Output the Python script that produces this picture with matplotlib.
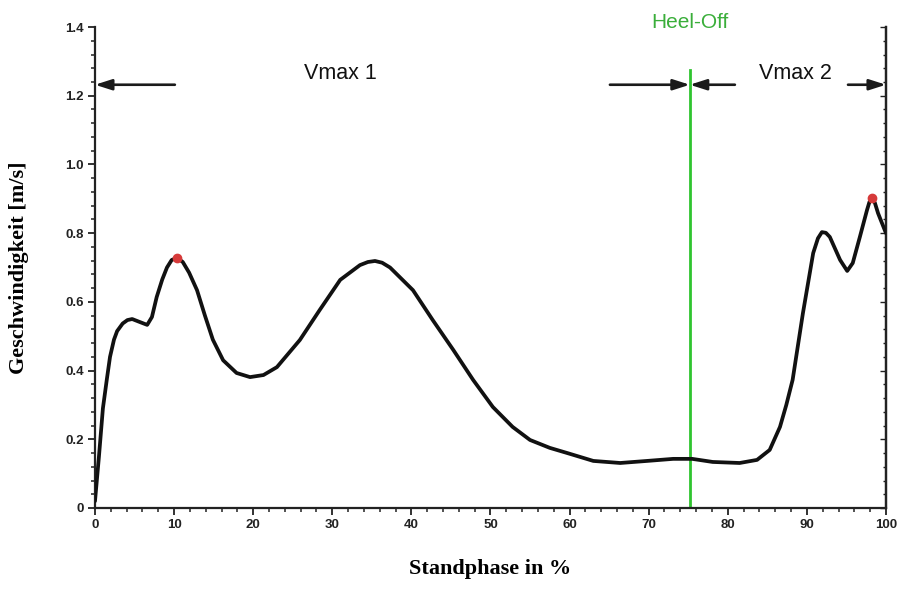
import matplotlib
matplotlib.use("Agg")
import matplotlib.pyplot as plt
from matplotlib.ticker import MultipleLocator

# Stance phase (%) and velocity (m/s)
phase = [0.0, 0.5, 1.0, 1.5, 1.9, 2.4, 2.8, 3.5, 4.1, 4.7, 5.7, 6.6, 7.2, 7.8,
         8.5, 9.1, 9.7, 10.4, 11.1, 11.9, 12.9, 13.9, 14.9, 16.2, 17.9, 19.6,
         21.3, 23.0, 25.9, 28.4, 31.0, 33.5, 34.5, 35.4, 36.3, 37.3, 40.2, 42.7,
         45.3, 47.8, 50.3, 52.8, 55.0, 57.5, 59.7, 63.0, 66.4, 69.8, 73.1, 75.5,
         78.1, 81.5, 83.7, 85.3, 86.6, 87.4, 88.2, 89.5, 90.8, 91.4, 91.9, 92.4,
         92.9, 94.2, 95.1, 95.8, 96.7, 97.6, 97.9, 98.2, 98.6, 99.0, 100.0]
velocity = [0.02, 0.15, 0.29, 0.375, 0.44, 0.49, 0.515, 0.537, 0.547, 0.55,
            0.541, 0.533, 0.556, 0.614, 0.665, 0.70, 0.722, 0.728, 0.716,
            0.685, 0.634, 0.56, 0.49, 0.43, 0.393, 0.381, 0.387, 0.41, 0.489,
            0.576, 0.664, 0.707, 0.716, 0.719, 0.714, 0.70, 0.634, 0.547, 0.46,
            0.373, 0.294, 0.236, 0.198, 0.175, 0.16, 0.137, 0.131, 0.137, 0.143,
            0.143, 0.134, 0.131, 0.14, 0.169, 0.236, 0.30, 0.373, 0.567, 0.742,
            0.785, 0.803, 0.801, 0.789, 0.722, 0.69, 0.713, 0.789, 0.867, 0.89,
            0.902, 0.888, 0.858, 0.80]

# Velocity maxima
peak_phase = [10.4, 98.2]
peak_velocity = [0.728, 0.902]

heel_off = 75.2
arrow_y = 1.232
# (tail, head) of the bracket arrows
arrows = [(10.1, 0.0), (65.1, heel_off), (80.9, heel_off), (95.2, 100.0)]
labels = [("Vmax 1", 31.0), ("Vmax 2", 88.5)]

fig = plt.figure(figsize=(8.97, 5.90), dpi=100)
ax = fig.add_axes([0.1059, 0.1390, 0.8818, 0.8152])

ax.plot(phase, velocity, color="#111111", lw=2.7, solid_capstyle="round",
        solid_joinstyle="round", zorder=3)
ax.plot(peak_phase, peak_velocity, "o", color="#d63a3a", ms=6, zorder=4)

ax.plot([heel_off, heel_off], [0, 1.275], color="#2fc42f", lw=2.0, zorder=2)
ax.text(heel_off, 1.414, "Heel-Off", color="#3aae3a", fontsize=15,
        family="Liberation Sans", ha="center", va="center", clip_on=False)

for tail, head in arrows:
    ax.annotate("", xy=(head, arrow_y), xytext=(tail, arrow_y),
                arrowprops=dict(arrowstyle="-|>,head_length=1.0,head_width=0.32",
                                color="#1a1a1a", lw=1.9, shrinkA=0, shrinkB=0))
for txt, xpos in labels:
    ax.text(xpos, 1.266, txt, fontsize=15.5, family="Liberation Sans",
            ha="center", va="center", color="#111111")

ax.set_xlim(0, 100)
ax.set_ylim(0, 1.4)
ax.xaxis.set_major_locator(MultipleLocator(10))
ax.xaxis.set_minor_locator(MultipleLocator(2))
ax.yaxis.set_major_locator(MultipleLocator(0.2))
ax.yaxis.set_minor_locator(MultipleLocator(0.04))
ax.yaxis.set_major_formatter(plt.FuncFormatter(
    lambda v, _: "0" if abs(v) < 1e-9 else f"{v:.1f}"))

ax.spines["top"].set_visible(False)
for s in ("left", "bottom", "right"):
    ax.spines[s].set_linewidth(1.6)
    ax.spines[s].set_color("#222222")

ax.tick_params(which="major", direction="out", length=5, width=1.3,
               colors="#222222", labelsize=9.5, pad=3)
ax.tick_params(which="minor", direction="out", length=3, width=1.1,
               colors="#222222")
for lab in ax.get_xticklabels() + ax.get_yticklabels():
    lab.set_fontweight("bold")
    lab.set_family("Liberation Sans")

sec = ax.secondary_yaxis("right")
sec.yaxis.set_major_locator(MultipleLocator(0.2))
sec.yaxis.set_minor_locator(MultipleLocator(0.04))
sec.tick_params(which="both", direction="in", labelright=False, width=1.0,
                colors="#222222")
sec.tick_params(which="major", length=4)
sec.tick_params(which="minor", length=2.5)
sec.spines["right"].set_linewidth(1.6)

ax.set_xlabel("Standphase in %", family="Liberation Serif", fontweight="bold",
              fontsize=16, labelpad=20)
ax.set_ylabel("Geschwindigkeit [m/s]", family="Liberation Serif",
              fontweight="bold", fontsize=16, labelpad=26)

fig.savefig("out.png", dpi=100, facecolor="white")
